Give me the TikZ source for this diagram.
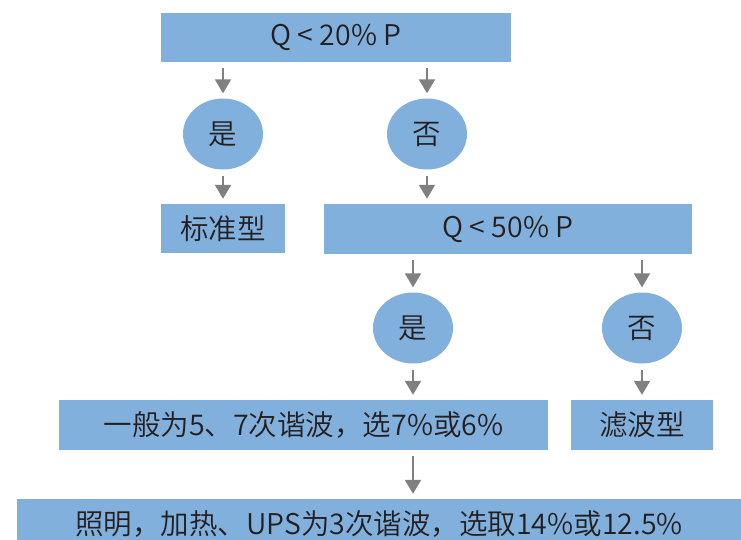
\documentclass[tikz,border=0pt]{standalone}
\usepackage{fontspec}
\setmainfont{Noto Sans CJK SC DemiLight}
\usetikzlibrary{shapes.geometric,arrows.meta}
\definecolor{boxblue}{RGB}{130,176,221}
\definecolor{arrgray}{RGB}{128,128,128}
\definecolor{txt}{RGB}{35,31,32}
\tikzset{
  every node/.style={font=\fontsize{28.5pt}{32pt}\selectfont, text=txt, inner sep=0pt},
  bbox/.style={rectangle, fill=boxblue, draw=none, anchor=center},
  oval/.style={ellipse, fill=boxblue, draw=none, minimum width=80pt, minimum height=71pt},
  arr/.style={draw=arrgray, line width=2pt, -{Triangle[width=16pt,length=14pt]}, arrgray, shorten <=6pt, shorten >=5pt}
}
\begin{document}
\begin{tikzpicture}[x=1pt,y=1pt]
\useasboundingbox (0,0) rectangle (741,-539);
\fill[white] (0,0) rectangle (741,-539);
% boxes
\node[bbox, minimum width=350pt, minimum height=49pt] (top) at (336,-37.5) {Q < 20\% P\hspace{18pt}};
\node[bbox, minimum width=124pt, minimum height=49pt] (std) at (223,-228.5) {标准型};
\node[bbox, minimum width=368pt, minimum height=50pt] (mid) at (508,-229) {Q < 50\% P\hspace{20pt}};
\node[bbox, minimum width=489pt, minimum height=50pt] (gen) at (303.5,-425) {一般为5、7次谐波，选7\%或6\%};
\node[bbox, minimum width=142pt, minimum height=50pt] (flt) at (642,-425) {滤波型};
\node[bbox, minimum width=724pt, minimum height=50pt] (bot) at (379,-524) {照明，加热、UPS为3次谐波，选取14\%或12.5\%\hspace{11pt}};
% ovals
\node[oval] (y1) at (223,-134) {是};
\node[oval] (n1) at (427,-134) {否};
\node[oval] (y2) at (413,-328) {是};
\node[oval] (n2) at (642,-328) {否};
% arrows
\draw[arr] (top.south -| y1) -- (y1.north);
\draw[arr] (top.south -| n1) -- (n1.north);
\draw[arr] (y1.south) -- (std.north -| y1);
\draw[arr] (n1.south) -- (mid.north -| n1);
\draw[arr] (mid.south -| y2) -- (y2.north);
\draw[arr] (mid.south -| n2) -- (n2.north);
\draw[arr] (y2.south) -- (gen.north -| y2);
\draw[arr] (n2.south) -- (flt.north -| n2);
\draw[arr] (gen.south -| y2) -- (bot.north -| y2);
\end{tikzpicture}
\end{document}
